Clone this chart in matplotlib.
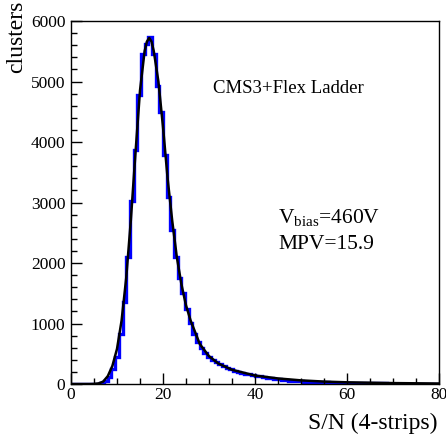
import numpy as np
import matplotlib
matplotlib.use("Agg")
import matplotlib.pyplot as plt
from matplotlib.ticker import MultipleLocator

plt.rcParams['font.family'] = ['Liberation Serif', 'DejaVu Serif']
plt.rcParams['mathtext.fontset'] = 'custom'
plt.rcParams['mathtext.rm'] = 'Liberation Serif'

# histogram: 100 bins of width 0.8 from 0 to 80
bin_edges = np.linspace(0, 80, 101)
counts = [0, 0, 0, 0, 0, 0, 0, 3, 12, 45,
          120, 240, 440, 820, 1350, 2100, 3030, 3860, 4770, 5450,
          5620, 5730, 5450, 4930, 4490, 3780, 3090, 2550, 2100, 1760,
          1510, 1240, 1010, 820, 690, 590, 510, 450, 400, 360,
          325, 295, 265, 240, 220, 200, 185, 170, 158, 146,
          135, 124, 112, 102, 92, 84, 76, 69, 62, 57,
          52, 48, 44, 40, 37, 34, 31, 29, 27, 25,
          23, 21, 20, 18, 17, 16, 15, 14, 13, 12,
          11, 11, 10, 10, 9, 9, 8, 8, 8, 7,
          7, 7, 6, 6, 6, 5, 5, 5, 5, 4]

# fitted curve
fit_x = [0, 4, 5, 6, 7, 8, 9, 10, 11, 12, 13, 14, 15, 16, 16.5, 17, 17.5, 18,
         19, 20, 21, 22, 23, 24, 25, 26, 28, 30, 32, 35, 40, 45, 50, 55, 60, 70, 80]
fit_y = [0, 0, 2, 10, 40, 130, 300, 580, 1050, 1750, 2700, 3800, 4850, 5500, 5660, 5720, 5660, 5500,
         5000, 4250, 3400, 2700, 2100, 1650, 1300, 1050, 660, 460, 340, 235, 140, 92, 60, 40, 28, 15, 8]

fig = plt.figure(figsize=(4.46, 4.34), dpi=100)
ax = fig.add_axes([71/446, 1-384/434, 368/446, 363/434])

ax.stairs(counts, bin_edges, color='blue', lw=2.4)
ax.plot(fit_x, fit_y, color='black', lw=1.8)

ax.set_xlim(0, 80)
ax.set_ylim(0, 6000)
ax.xaxis.set_major_locator(MultipleLocator(20))
ax.xaxis.set_minor_locator(MultipleLocator(5))
ax.yaxis.set_major_locator(MultipleLocator(1000))
ax.yaxis.set_minor_locator(MultipleLocator(200))
ax.tick_params(which='both', direction='in', top=False, right=False, labelsize=12.5, width=1)
ax.tick_params(which='major', length=8)
ax.tick_params(which='minor', length=4.3)
ax.tick_params(axis='y', pad=4)
ax.tick_params(axis='x', pad=2)
for s in ax.spines.values():
    s.set_linewidth(1)

ax.text(30.9, 4890, 'CMS3+Flex Ladder', fontsize=13.5, va='center', ha='left')
ax.text(45, 2744, r'V$_{\mathrm{bias}}$=460V', fontsize=15.5, va='center', ha='left')
ax.text(45, 2298, 'MPV=15.9', fontsize=15.5, va='center', ha='left')

fig.text(17/446, 1-1/434, 'clusters', rotation=90, fontsize=17, ha='center', va='top')
fig.text(437/446, 0.0, 'S/N (4-strips)', fontsize=17, ha='right', va='bottom')

fig.savefig('out.png', dpi=100)
